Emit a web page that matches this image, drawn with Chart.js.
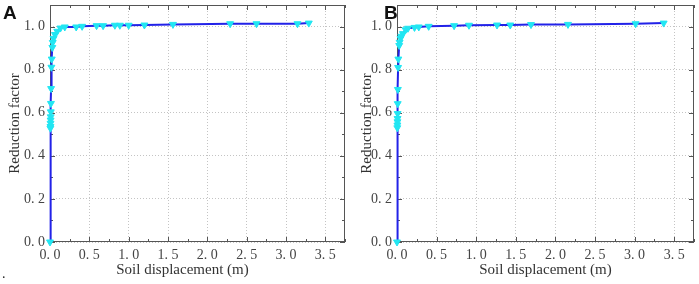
<!DOCTYPE html>
<html>
<head>
<meta charset="utf-8">
<script src="https://cdn.jsdelivr.net/npm/chart.js@4/dist/chart.umd.min.js"></script>
<style>
    html, body { margin: 0; padding: 0; background: #fff; }
    #wrap { position: relative; width: 699px; height: 284px; overflow: hidden; }
    canvas { position: absolute; top: 0; }
    #chartA { left: 0; }
    #chartB { left: 350px; }
    .tag { position: absolute; font-family: 'Liberation Sans', Arial, sans-serif; font-weight: bold; font-size: 19px; color: #111; }
    .dot { position: absolute; left: 2px; top: 266px; font-family: 'Liberation Serif', serif; font-size: 14px; color: #222; }
</style>
</head>
<body>
<div id="wrap">
    <canvas id="chartA" width="350" height="284"></canvas>
    <canvas id="chartB" width="349" height="284"></canvas>
    <div class="tag" style="left:3px; top:2px;">A</div>
    <div class="tag" style="left:384px; top:2px;">B</div>
    <div class="dot">.</div>
</div>
<script>
// 軸の目盛り
const xTicks = [0, 0.5, 1.0, 1.5, 2.0, 2.5, 3.0, 3.5];
const yTicks = [0, 0.2, 0.4, 0.6, 0.8, 1.0];
const xMinor = [0.25, 0.75, 1.25, 1.75, 2.25, 2.75, 3.25, 3.75];
const yMinor = [0.1, 0.3, 0.5, 0.7, 0.9, 1.1];

// パネルA
const dispA = [0, 0.005, 0.006, 0.007, 0.008, 0.009, 0.010, 0.012, 0.014, 0.018, 0.022, 0.030, 0.035, 0.045,
    0.063, 0.092, 0.133, 0.188, 0.333, 0.408, 0.592, 0.675, 0.825, 0.888, 1.0, 1.2, 1.563, 2.29, 2.625, 3.146, 3.29];
const factorA = [0, 0.528, 0.536, 0.551, 0.566, 0.581, 0.604, 0.643, 0.712, 0.811, 0.849, 0.903, 0.926, 0.945,
    0.963, 0.978, 0.993, 0.998, 0.998, 1.001, 1.004, 1.004, 1.006, 1.006, 1.006, 1.007, 1.010, 1.013, 1.013, 1.013, 1.016];

// パネルB
const dispB = [0, 0.004, 0.005, 0.006, 0.007, 0.008, 0.009, 0.011, 0.014, 0.017, 0.028, 0.033, 0.045, 0.055,
    0.075, 0.109, 0.138, 0.221, 0.275, 0.4, 0.721, 0.909, 1.263, 1.43, 1.692, 2.159, 3.013, 3.367];
const factorB = [0, 0.530, 0.543, 0.558, 0.573, 0.596, 0.642, 0.708, 0.810, 0.849, 0.912, 0.927, 0.945, 0.955,
    0.967, 0.985, 0.992, 0.996, 0.998, 1.001, 1.004, 1.006, 1.007, 1.007, 1.009, 1.010, 1.013, 1.016];

const serif = "'Liberation Serif', 'DejaVu Serif', serif";

function fmt(v) {
    return v.toFixed(1).replace('.', '. ');
}

function keepTicks(list) {
    return function (scale) {
        scale.ticks = list.map(v => ({ value: v }));
    };
}

// 枠・内向き目盛り・x軸タイトル（データ線の下に描く）
const framePlugin = {
    id: 'frame',
    beforeDatasetsDraw(chart, args, opts) {
        const { ctx, chartArea: a, scales: { x, y } } = chart;
        ctx.save();
        ctx.strokeStyle = '#555';
        ctx.lineWidth = 1;
        ctx.strokeRect(a.left + 0.5, a.top + 0.5, a.right - a.left - 1, a.bottom - a.top - 1);
        ctx.beginPath();
        const tickX = (v, len) => {
            const px = Math.round(x.getPixelForValue(v)) + 0.5;
            ctx.moveTo(px, a.bottom); ctx.lineTo(px, a.bottom - len);
            ctx.moveTo(px, a.top); ctx.lineTo(px, a.top + len);
        };
        const tickY = (v, len) => {
            const py = Math.round(y.getPixelForValue(v)) + 0.5;
            ctx.moveTo(a.left, py); ctx.lineTo(a.left + len, py);
            ctx.moveTo(a.right, py); ctx.lineTo(a.right - len, py);
        };
        xTicks.forEach(v => tickX(v, 5));
        xMinor.forEach(v => tickX(v, 3));
        yTicks.forEach(v => tickY(v, 5));
        yMinor.forEach(v => tickY(v, 3));
        ctx.stroke();

        ctx.fillStyle = '#333';
        ctx.font = '15px ' + serif;
        ctx.textAlign = 'center';
        ctx.textBaseline = 'middle';
        ctx.fillText('Soil displacement (m)', (a.left + a.right) / 2 + opts.shift, 270);
        ctx.restore();
    }
};

function makeChart(id, xs, ys, yWidth, padRight, titlePad, shift) {
    const points = xs.map((v, i) => ({ x: v, y: ys[i] }));
    return new Chart(document.getElementById(id), {
        type: 'scatter',
        data: {
            datasets: [{
                data: points,
                showLine: true,
                borderColor: '#2222e8',
                borderWidth: 2,
                pointStyle: 'triangle',
                rotation: 180,
                pointRadius: 4,
                pointBackgroundColor: '#22e6f2',
                pointBorderColor: '#22e6f2',
                pointBorderWidth: 1,
                clip: false
            }]
        },
        options: {
            responsive: false,
            animation: false,
            layout: { padding: { top: 2, right: padRight, left: 0, bottom: 0 } },
            plugins: { legend: { display: false }, tooltip: { enabled: false }, frame: { shift: shift } },
            scales: {
                x: {
                    type: 'linear',
                    min: 0,
                    max: 3.75,
                    afterBuildTicks: keepTicks(xTicks),
                    afterFit(scale) {
                        scale.height = 42;
                        scale.paddingLeft = 0;
                        scale.paddingRight = 0;
                    },
                    grid: { color: '#c4c4c4', lineWidth: 1, drawTicks: false },
                    border: { display: false, dash: [1, 2] },
                    ticks: {
                        padding: 5,
                        color: '#444',
                        font: { family: serif, size: 14 },
                        maxRotation: 0,
                        callback: v => fmt(v)
                    }
                },
                y: {
                    type: 'linear',
                    min: 0,
                    max: 1.1,
                    afterBuildTicks: keepTicks(yTicks),
                    afterFit(scale) {
                        scale.width = yWidth;
                        scale.paddingTop = 0;
                        scale.paddingBottom = 0;
                    },
                    grid: { color: '#c4c4c4', lineWidth: 1, drawTicks: false },
                    border: { display: false, dash: [1, 2] },
                    ticks: {
                        padding: 5,
                        color: '#444',
                        font: { family: serif, size: 14 },
                        callback: v => fmt(v)
                    },
                    title: {
                        display: true,
                        text: 'Reduction factor',
                        color: '#333',
                        font: { family: serif, size: 15, lineHeight: 1.2 },
                        padding: { top: titlePad, bottom: 0 }
                    }
                }
            }
        },
        plugins: [framePlugin]
    });
}

makeChart('chartA', dispA, factorA, 50, 2, 6, -15);
makeChart('chartB', dispB, factorB, 47, 3, 8, 0);
</script>
</body>
</html>
